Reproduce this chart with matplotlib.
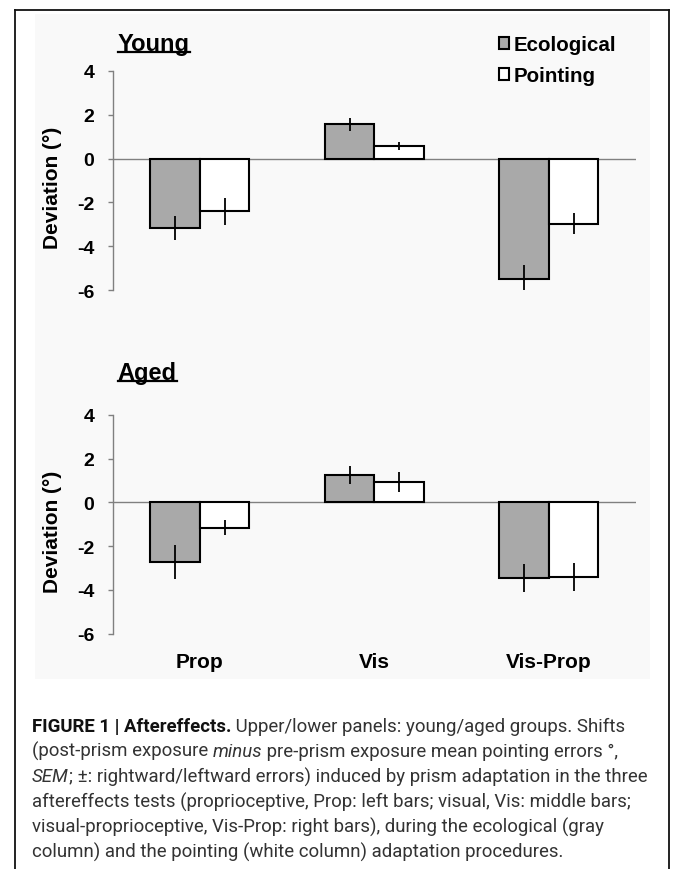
import matplotlib
matplotlib.use("Agg")
import matplotlib.pyplot as plt
from matplotlib.patches import Rectangle
from matplotlib.lines import Line2D
from matplotlib import font_manager as fm
import numpy as np

# ---------------- data ----------------
categories = ["Prop", "Vis", "Vis-Prop"]
series_names = ["Ecological", "Pointing"]
young_eco = [-3.17, 1.57, -5.49]
young_eco_sem = [0.55, 0.30, 0.64]
young_point = [-2.41, 0.58, -2.97]
young_point_sem = [0.60, 0.19, 0.49]
aged_eco = [-2.72, 1.24, -3.45]
aged_eco_sem = [0.77, 0.40, 0.65]
aged_point = [-1.16, 0.93, -3.42]
aged_point_sem = [0.33, 0.46, 0.63]
yticks = [4, 2, 0, -2, -4, -6]
panel_titles = ["Young", "Aged"]
ylabel = "Deviation (°)"

W, H = 673, 870
fig = plt.figure(figsize=(W / 100, H / 100), dpi=100)
fig.patch.set_facecolor("white")

def fx(px):
    return px / W

def fy(py):
    return 1 - py / H

# light background of chart image
fig.patches.append(Rectangle((fx(35), fy(680)), fx(650) - fx(35), fy(15) - fy(680),
                             transform=fig.transFigure, facecolor="#f9f9f9",
                             edgecolor="none", zorder=-5))
# frame
for xs, ys in [([15, 15], [11, 870]), ([15, 669], [11, 11]), ([669, 669], [11, 870])]:
    fig.lines.append(Line2D([fx(x) for x in xs], [fy(y) for y in ys],
                            transform=fig.transFigure, color="#111111", lw=1.3, zorder=-4))

SANS = ["Liberation Sans", "DejaVu Sans"]
bold = dict(family=SANS, weight="bold")

AX_L, AX_R = 112.7, 636

def make_panel(top_px, bot_px, eco, eco_sem, pt, pt_sem, show_xlabels):
    ax = fig.add_axes([fx(AX_L), fy(bot_px), fx(AX_R) - fx(AX_L), fy(top_px) - fy(bot_px)])
    ax.set_facecolor("none")
    ax.set_zorder(2)
    x = np.arange(len(categories))
    w = 0.284
    b1 = ax.bar(x - w / 2, eco, w, color="#a9a9a9", edgecolor="black", lw=1.5, zorder=3)
    b2 = ax.bar(x + w / 2, pt, w, color="white", edgecolor="black", lw=1.5, zorder=3)
    ax.errorbar(x - w / 2, eco, yerr=eco_sem, fmt="none", ecolor="black", elinewidth=1.3,
                capsize=0, zorder=4)
    ax.errorbar(x + w / 2, pt, yerr=pt_sem, fmt="none", ecolor="black", elinewidth=1.3,
                capsize=0, zorder=4)
    ax.axhline(0, color="#808080", lw=1.0, zorder=2)
    ax.set_xlim(-0.5, 2.5)
    ax.set_ylim(-6, 4)
    ax.set_yticks(yticks)
    ax.set_yticklabels([str(t) for t in yticks], fontsize=14, **bold)
    for s in ["top", "right", "bottom"]:
        ax.spines[s].set_visible(False)
    ax.spines["left"].set_color("#808080")
    ax.spines["left"].set_linewidth(1.0)
    ax.tick_params(axis="y", length=3.3, width=1.0, color="#808080", pad=10)
    if show_xlabels:
        ax.set_xticks(x)
        ax.set_xticklabels(categories, fontsize=15, **bold)
        ax.tick_params(axis="x", length=0, pad=13)
    else:
        ax.set_xticks([])
    return ax, b1, b2

ax1, b1, b2 = make_panel(72, 291, young_eco, young_eco_sem, young_point, young_point_sem, False)
ax2, _, _ = make_panel(415.7, 634.7, aged_eco, aged_eco_sem, aged_point, aged_point_sem, True)

# y labels
fig.text(fx(53), fy(188), ylabel, rotation=90, ha="center", va="center", fontsize=15, **bold)
fig.text(fx(53), fy(532), ylabel, rotation=90, ha="center", va="center", fontsize=15, **bold)

# panel titles with underline
renderer = fig.canvas.get_renderer()
for title, ybase, yul in [(panel_titles[0], 51, 52.5), (panel_titles[1], 380, 381.7)]:
    t = fig.text(fx(117.7), fy(ybase), title, ha="left", va="baseline", fontsize=17, **bold)
    bb = t.get_window_extent(renderer)
    fig.lines.append(Line2D([bb.x0 / W, bb.x1 / W], [fy(yul), fy(yul)],
                            transform=fig.transFigure, color="black", lw=1.6))

# legend
leg = fig.legend([b1, b2], series_names, loc="upper left",
                 bbox_to_anchor=(fx(499), fy(36)), frameon=False,
                 handlelength=0.5, handleheight=0.5, handletextpad=0.2,
                 labelspacing=0.6, borderaxespad=0, borderpad=0,
                 prop=dict(family=SANS, weight="bold", size=14.8))

# caption
families = {f.name for f in fm.fontManager.ttflist}
cap_font = "Roboto" if "Roboto" in families else "Liberation Sans"
cap_weight = "normal"
cap_color = "#333333"
lines = [
    [("FIGURE 1 | Aftereffects.", "bold", "normal"), (" Upper/lower panels: young/aged groups. Shifts", cap_weight, "normal")],
    [("(post-prism exposure ", cap_weight, "normal"), ("minus", cap_weight, "italic"), (" pre-prism exposure mean pointing errors °,", cap_weight, "normal")],
    [("SEM", cap_weight, "italic"), ("; ±: rightward/leftward errors) induced by prism adaptation in the three", cap_weight, "normal")],
    [("aftereffects tests (proprioceptive, Prop: left bars; visual, Vis: middle bars;", cap_weight, "normal")],
    [("visual-proprioceptive, Vis-Prop: right bars), during the ecological (gray", cap_weight, "normal")],
    [("column) and the pointing (white column) adaptation procedures.", cap_weight, "normal")],
]
baselines = [732, 757.2, 782.4, 807.6, 832.8, 858]

def draw_line(segs, ybase, size, draw=True):
    x = fx(32)
    objs = []
    for txt, wt, st in segs:
        t = fig.text(x, fy(ybase), txt, ha="left", va="baseline", fontsize=size,
                     family=cap_font, weight=wt, style=st,
                     color=("#111111" if wt == "bold" else cap_color))
        bb = t.get_window_extent(renderer)
        x += bb.width / W
        objs.append(t)
    total = x - fx(32)
    if not draw:
        for o in objs:
            o.remove()
    return total

# fit font size so that line 3 spans ~614 px
w12 = draw_line(lines[2], baselines[2], 12, draw=False) * W
cap_size = 12 * 614 / w12
for segs, yb in zip(lines, baselines):
    draw_line(segs, yb, cap_size)

fig.savefig("out.png", dpi=100, facecolor="white")
